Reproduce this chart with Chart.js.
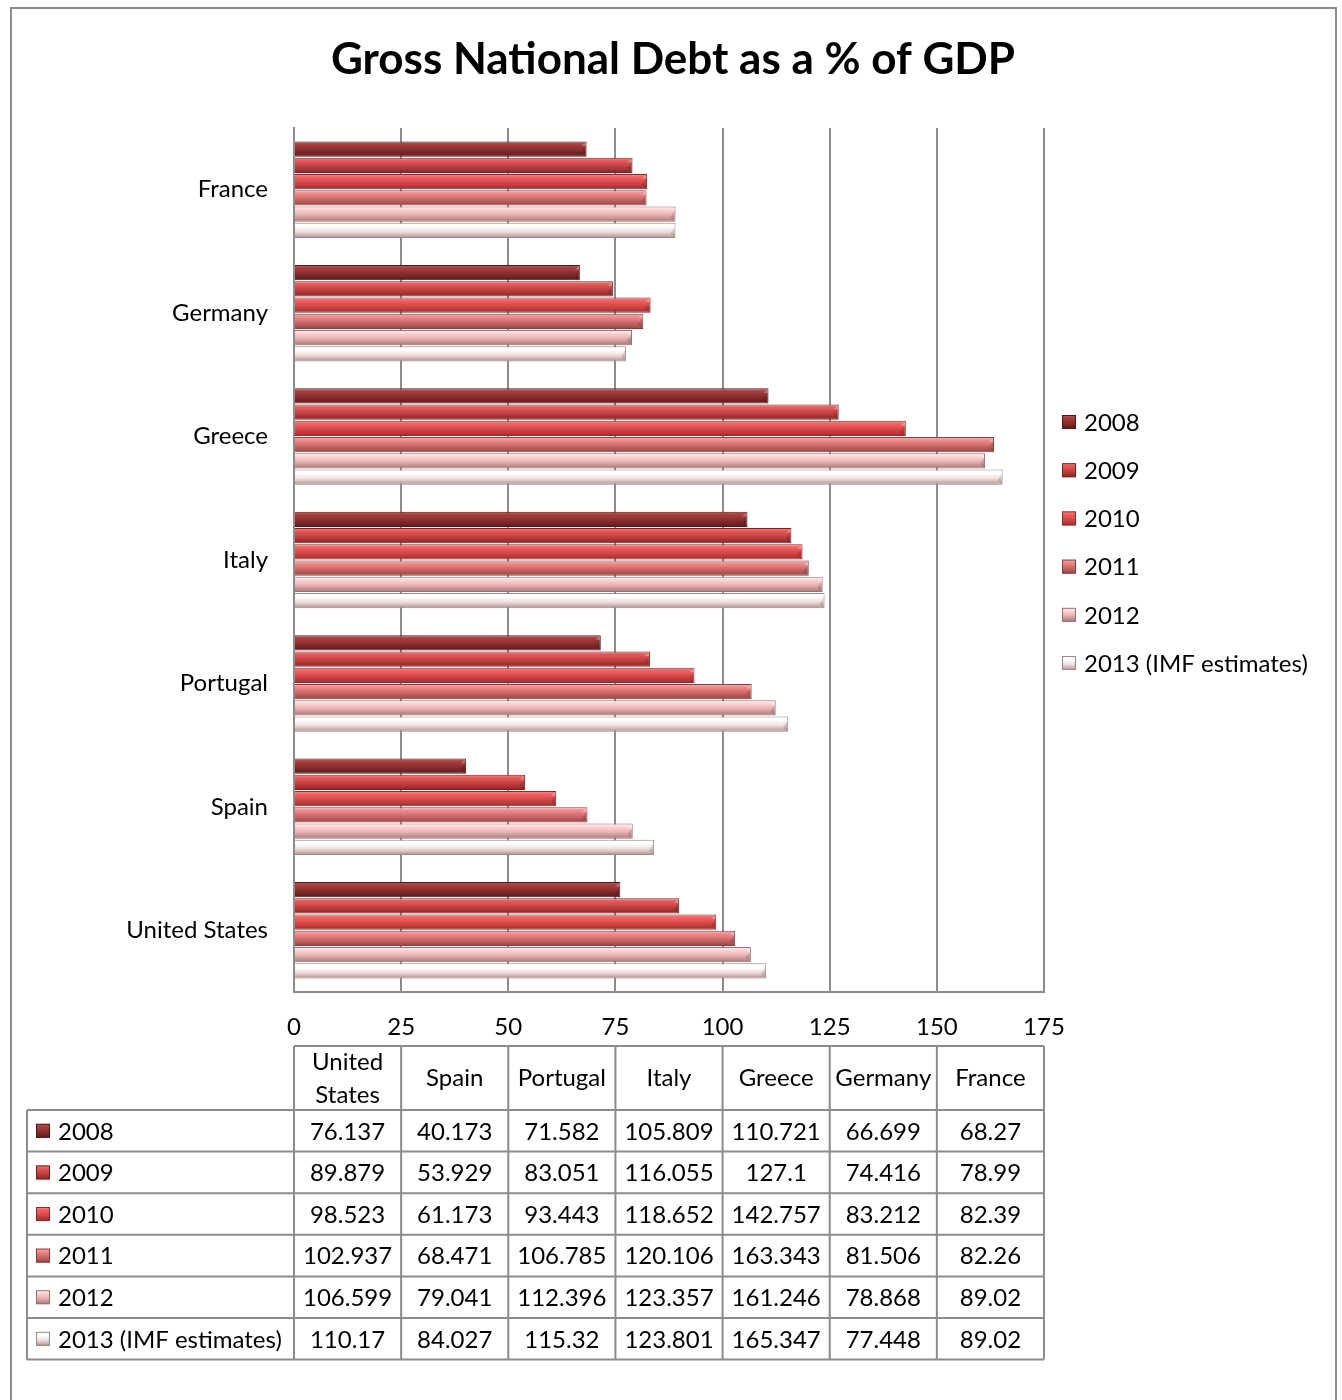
<!DOCTYPE html>
<html><head><meta charset="utf-8">
<script src="https://cdn.jsdelivr.net/npm/chart.js@4"></script>
<style>html,body{margin:0;padding:0;background:#fff}#wrap{width:1342px;height:1400px;position:relative}</style>
</head><body><div id="wrap"><canvas id="c" width="1342" height="1400"></canvas></div>
<script>
const categories = ['United States','Spain','Portugal','Italy','Greece','Germany','France'];
const years = ['2008','2009','2010','2011','2012','2013 (IMF estimates)'];
const debt2008 = [76.137,40.173,71.582,105.809,110.721,66.699,68.27];
const debt2009 = [89.879,53.929,83.051,116.055,127.1,74.416,78.99];
const debt2010 = [98.523,61.173,93.443,118.652,142.757,83.212,82.39];
const debt2011 = [102.937,68.471,106.785,120.106,163.343,81.506,82.26];
const debt2012 = [106.599,79.041,112.396,123.357,161.246,78.868,89.02];
const debt2013 = [110.17,84.027,115.32,123.801,165.347,77.448,89.02];
const xTicks = [0,25,50,75,100,125,150,175];
const chartTitle = 'Gross National Debt as a % of GDP';

const seriesValues = [debt2008, debt2009, debt2010, debt2011, debt2012, debt2013];

// styles
const FONT = 'Lato, "Open Sans", "Liberation Sans", sans-serif';
const FS = 24;
const gradStops = [
  [[0,'#c46060'],[0.18,'#a84040'],[0.55,'#8a2e2e'],[1,'#5a1a1a']],
  [[0,'#ff8a8a'],[0.18,'#e45c5c'],[0.55,'#c44242'],[1,'#862626']],
  [[0,'#ff9494'],[0.18,'#f26464'],[0.55,'#d84848'],[1,'#9a2e2e']],
  [[0,'#ffb6b6'],[0.18,'#f09090'],[0.55,'#d06a6a'],[1,'#944646']],
  [[0,'#fff2f2'],[0.18,'#ffd8d8'],[0.55,'#e8b2b2'],[1,'#a47676']],
  [[0,'#ffffff'],[0.25,'#ffffff'],[0.6,'#f0dcdc'],[1,'#ad8e8e']]
];
const flatColors = ['#8a2e2e','#c44242','#d84848','#d06a6a','#e8b2b2','#f0dcdc'];
const edgeColors = ['#4e1616','#7a2222','#8a2a2a','#844040','#9a7070','#a08686'];
const LINE = '#8c8c8c';

function makeGrad(ctx, di, y0, y1) {
  const g = ctx.createLinearGradient(0, y0, 0, y1);
  gradStops[di].forEach(([o, c]) => g.addColorStop(o, c));
  return g;
}

const gradientPlugin = {
  id: 'barGradient',
  beforeDatasetsDraw(chart) {
    const ctx = chart.ctx;
    chart.data.datasets.forEach((ds, di) => {
      const meta = chart.getDatasetMeta(di);
      meta.data.forEach(el => {
        const p = el.getProps(['y', 'height'], true);
        const g = makeGrad(ctx, di, p.y - p.height / 2, p.y + p.height / 2);
        el.options = Object.assign({}, el.options, { backgroundColor: g });
      });
    });
  },
  afterDatasetsDraw(chart) {
    // bevel highlight at the bar ends
    const ctx = chart.ctx;
    ctx.save();
    chart.data.datasets.forEach((ds, di) => {
      const meta = chart.getDatasetMeta(di);
      meta.data.forEach(el => {
        const p = el.getProps(['x', 'y', 'height'], true);
        const h = p.height, top = p.y - h / 2;
        ctx.fillStyle = 'rgba(255,255,255,0.28)';
        ctx.beginPath();
        ctx.moveTo(p.x - 1, top + 1);
        ctx.lineTo(p.x - 1, top + h * 0.3);
        ctx.lineTo(p.x - h * 0.35, top + h * 0.3);
        ctx.closePath();
        ctx.fill();
        ctx.fillStyle = 'rgba(0,0,0,0.12)';
        ctx.beginPath();
        ctx.moveTo(p.x - 1, top + h * 0.3);
        ctx.lineTo(p.x - 1, top + h - 1);
        ctx.lineTo(p.x - h * 0.35, top + h * 0.7);
        ctx.closePath();
        ctx.fill();
      });
    });
    ctx.restore();
  }
};

function drawMarker(ctx, di, x, y, s) {
  ctx.fillStyle = makeGrad(ctx, di, y, y + s);
  ctx.fillRect(x, y, s, s);
  ctx.strokeStyle = edgeColors[di];
  ctx.lineWidth = 1;
  ctx.strokeRect(x + 0.5, y + 0.5, s - 1, s - 1);
}

const extrasPlugin = {
  id: 'extras',
  afterDraw(chart) {
    const ctx = chart.ctx;
    const xs = chart.scales.x;
    const area = chart.chartArea;
    ctx.save();
    // outer border
    ctx.strokeStyle = LINE; ctx.lineWidth = 2;
    ctx.strokeRect(11, 8, 1325, 1400);

    // title centred on the whole canvas
    ctx.fillStyle = '#000';
    ctx.font = 'bold 44px ' + FONT;
    ctx.textAlign = 'center';
    ctx.textBaseline = 'middle';
    ctx.fillText(chartTitle, chart.width / 2 + 2, 60);

    // legend
    ctx.font = FS + 'px ' + FONT;
    ctx.textBaseline = 'middle';
    ctx.textAlign = 'left';
    const lx = area.right + 18;
    years.forEach((yr, i) => {
      const cy = 422 + i * 48.2;
      drawMarker(ctx, i, lx, cy - 7, 14);
      ctx.fillStyle = '#000';
      ctx.fillText(yr, lx + 22, cy + 1);
    });

    // data table
    const colX = xTicks.map(v => xs.getPixelForValue(v));
    const tableLeft = 27, headTop = 1046, rowTop = 1110, rowH = 41.6;
    const bottom = rowTop + rowH * years.length;
    ctx.strokeStyle = LINE; ctx.lineWidth = 2;
    ctx.beginPath();
    ctx.moveTo(colX[0], headTop); ctx.lineTo(colX[colX.length - 1], headTop);
    for (let i = 0; i <= years.length; i++) {
      const y = rowTop + i * rowH;
      ctx.moveTo(tableLeft, y); ctx.lineTo(colX[colX.length - 1], y);
    }
    colX.forEach(x => { ctx.moveTo(x, headTop); ctx.lineTo(x, bottom); });
    ctx.moveTo(tableLeft, rowTop); ctx.lineTo(tableLeft, bottom);
    ctx.stroke();

    ctx.fillStyle = '#000';
    ctx.textAlign = 'center';
    categories.forEach((cat, j) => {
      const cx = (colX[j] + colX[j + 1]) / 2;
      const w = colX[j + 1] - colX[j] - 4;
      if (ctx.measureText(cat).width > w && cat.includes(' ')) {
        const parts = cat.split(' ');
        ctx.fillText(parts[0], cx, headTop + 16);
        ctx.fillText(parts.slice(1).join(' '), cx, headTop + 49);
      } else {
        ctx.fillText(cat, cx, (headTop + rowTop) / 2);
      }
    });
    years.forEach((yr, i) => {
      const cy = rowTop + i * rowH + rowH / 2;
      drawMarker(ctx, i, 36, cy - 7, 14);
      ctx.fillStyle = '#000';
      ctx.textAlign = 'left';
      ctx.fillText(yr, 58, cy + 1);
      ctx.textAlign = 'center';
      seriesValues[i].forEach((v, j) => {
        ctx.fillText(String(v), (colX[j] + colX[j + 1]) / 2, cy + 1);
      });
    });
    ctx.restore();
  }
};

Chart.defaults.font.family = FONT;

new Chart(document.getElementById('c'), {
  type: 'bar',
  data: {
    labels: categories,
    datasets: years.map((yr, i) => ({
      label: yr,
      data: seriesValues[i],
      backgroundColor: flatColors[i],
      borderColor: edgeColors[i],
      borderWidth: 1,
      borderSkipped: 'start',
      categoryPercentage: 0.79,
      barPercentage: 0.94
    }))
  },
  options: {
    indexAxis: 'y',
    responsive: false,
    animation: false,
    devicePixelRatio: 1,
    layout: { padding: { left: 0, right: 298, top: 128, bottom: 360 } },
    scales: {
      x: {
        min: 0, max: 175,
        afterBuildTicks: s => { s.ticks = xTicks.map(v => ({ value: v })); },
        afterFit: s => { s.height = 48; },
        ticks: { font: { size: FS }, color: '#000', padding: 21 },
        grid: { color: LINE, lineWidth: 2, drawTicks: false },
        border: { display: true, color: LINE, width: 2 }
      },
      y: {
        reverse: true,
        afterFit: s => { s.width = 294; },
        ticks: { font: { size: FS }, color: '#000', padding: 26 },
        grid: { display: false, drawTicks: false },
        border: { display: true, color: LINE, width: 2 }
      }
    },
    plugins: {
      legend: { display: false },
      tooltip: { enabled: false },
      title: { display: false }
    }
  },
  plugins: [gradientPlugin, extrasPlugin]
});
</script></body></html>
